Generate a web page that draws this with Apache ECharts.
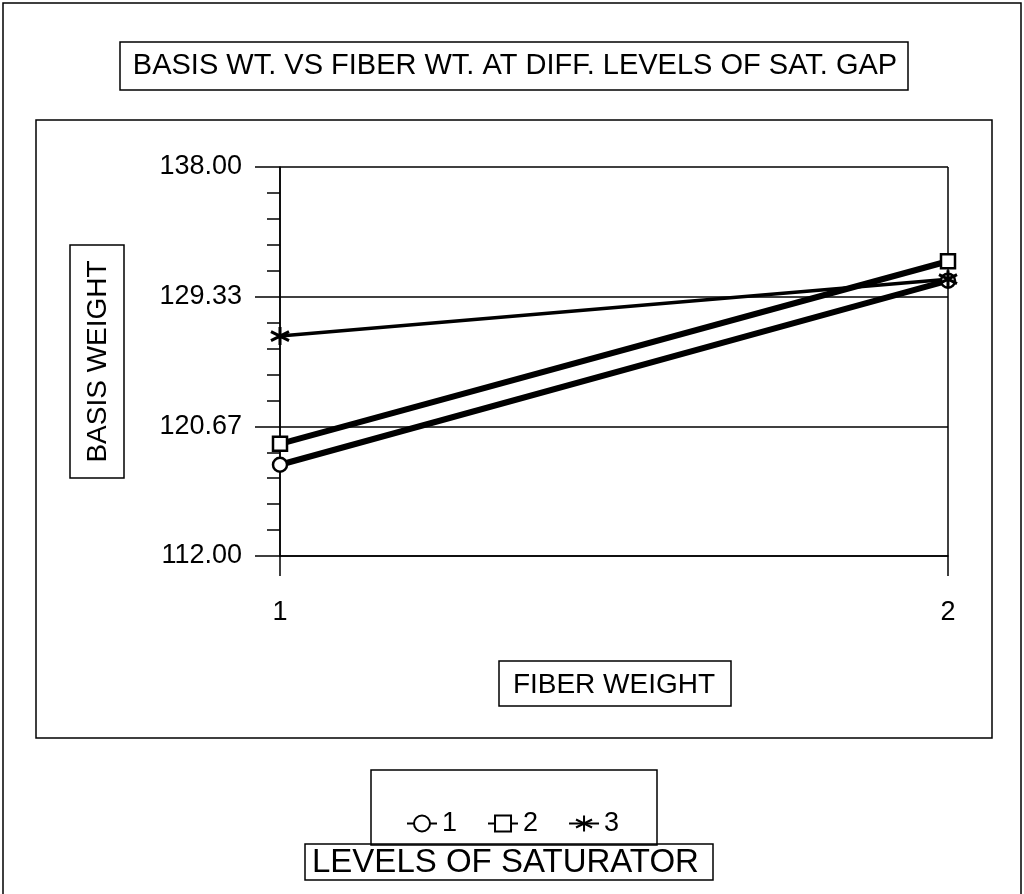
<!DOCTYPE html>
<html>
<head>
<meta charset="utf-8">
<script src="https://cdn.jsdelivr.net/npm/echarts@6/dist/echarts.min.js"></script>
<style>
html,body{margin:0;padding:0;background:#fff;}
#main{width:1024px;height:894px;}
</style>
</head>
<body>
<div id="main"></div>
<script>
// ---- data ----
const categories = ['1', '2'];
const seriesNames = ['1', '2', '3'];
const sat1 = [118.1, 130.4];
const sat2 = [119.5, 131.7];
const sat3 = [126.7, 130.5];
const yMin = 112.00;
const yMax = 138.00;
const yTickCount = 3;

const titleText = 'BASIS WT. VS FIBER WT. AT DIFF. LEVELS OF SAT. GAP';
const yName = 'BASIS WEIGHT';
const xName = 'FIBER WEIGHT';
const legendTitle = 'LEVELS OF SATURATOR';

const FONT = '"Liberation Sans", Arial, Helvetica, sans-serif';
const shift = v => v - yMin;

const starPath = 'path://M10,0L10,20M1.34,5L18.66,15M1.34,15L18.66,5';

const chart = echarts.init(document.getElementById('main'), null, {renderer: 'canvas'});

function box(x, y, w, h) {
  return {type: 'rect', shape: {x: x, y: y, width: w, height: h},
    style: {fill: 'none', stroke: '#000', lineWidth: 1.5}, z: 0, silent: true};
}

const option = {
  backgroundColor: '#fff',
  animation: false,
  title: [
    {text: titleText, left: 515, top: 51, textAlign: 'center', padding: 0,
     textStyle: {fontFamily: FONT, fontSize: 29, fontWeight: 'normal', color: '#000'}},
    {text: legendTitle, left: 312, top: 846, padding: 0,
     textStyle: {fontFamily: FONT, fontSize: 33, fontWeight: 'normal', color: '#000'}}
  ],
  graphic: [
    box(3, 3, 1018, 900),
    box(120, 42, 788, 48),
    box(36, 120, 956, 618),
    box(70, 245, 54, 233),
    box(499, 661, 232, 45),
    box(371, 770, 286, 75),
    box(305, 844, 408, 36)
  ],
  legend: {
    data: seriesNames,
    left: 401, top: 805,
    itemWidth: 30, itemHeight: 20, itemGap: 30,
    textStyle: {fontFamily: FONT, fontSize: 27, color: '#000'},
    inactiveColor: '#000'
  },
  grid: {left: 280, right: 76, top: 167, bottom: 338, containLabel: false},
  xAxis: {
    type: 'category', data: categories, boundaryGap: false,
    name: xName, nameLocation: 'middle', nameGap: 115,
    nameTextStyle: {fontFamily: FONT, fontSize: 28, color: '#000'},
    axisLine: {show: true, onZero: false, lineStyle: {color: '#000', width: 1.5}},
    axisTick: {show: true, length: 20, alignWithLabel: true, lineStyle: {color: '#000', width: 1.5}},
    axisLabel: {margin: 43, fontFamily: FONT, fontSize: 27, color: '#000'},
    splitLine: {show: true, lineStyle: {color: '#000', width: 1.5}}
  },
  yAxis: {
    type: 'value', min: shift(yMin), max: shift(yMax), interval: (yMax - yMin) / yTickCount,
    name: yName, nameLocation: 'middle', nameGap: 168, nameRotate: 90,
    nameTextStyle: {fontFamily: FONT, fontSize: 28, color: '#000'},
    axisLine: {show: true, lineStyle: {color: '#000', width: 1.5}},
    axisTick: {show: true, length: 25, lineStyle: {color: '#000', width: 1.5}},
    minorTick: {show: true, splitNumber: 5, length: 13, lineStyle: {color: '#000', width: 1.5}},
    axisLabel: {margin: 38, fontFamily: FONT, fontSize: 27, color: '#000',
      formatter: v => (v + yMin).toFixed(2)},
    splitLine: {show: true, lineStyle: {color: '#000', width: 1.5}}
  },
  series: [
    {name: seriesNames[0], type: 'line', data: sat1.map(shift),
     symbol: 'circle', symbolSize: 14, showAllSymbol: true,
     lineStyle: {color: '#000', width: 6},
     itemStyle: {color: '#fff', borderColor: '#000', borderWidth: 2.5}, z: 3},
    {name: seriesNames[1], type: 'line', data: sat2.map(shift),
     symbol: 'rect', symbolSize: 14, showAllSymbol: true,
     lineStyle: {color: '#000', width: 6},
     itemStyle: {color: '#fff', borderColor: '#000', borderWidth: 2.5}, z: 3},
    {name: seriesNames[2], type: 'line', data: sat3.map(shift),
     symbol: starPath, symbolSize: 18, showAllSymbol: true,
     lineStyle: {color: '#000', width: 3.5},
     itemStyle: {color: 'none', borderColor: '#000', borderWidth: 3}, z: 3}
  ]
};
chart.setOption(option);
</script>
</body>
</html>
